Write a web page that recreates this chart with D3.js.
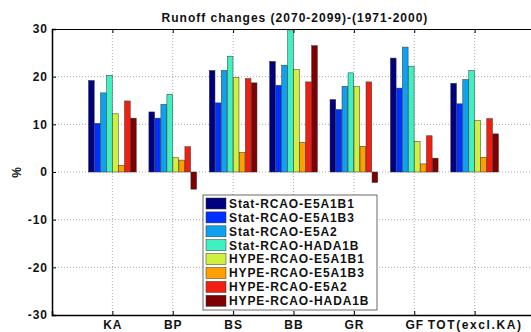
<!DOCTYPE html>
<html>
<head>
<meta charset="utf-8">
<script src="https://cdn.jsdelivr.net/npm/d3@7"></script>
<style>
  body { margin: 0; background: #fff; }
  text { font-family: "Liberation Sans", Arial, sans-serif; font-weight: bold; letter-spacing: 1px; }
  .grid line { stroke: #999; stroke-dasharray: 1,2; stroke-width: 0.8; }
</style>
</head>
<body>
<div id="chart-area"></div>
<script>
// Runoff changes per basin, in %
var basins = ["KA", "BP", "BS", "BB", "GR", "GF", "TOT(excl.KA)"];
var runs = ["Stat-RCAO-E5A1B1", "Stat-RCAO-E5A1B3", "Stat-RCAO-E5A2", "Stat-RCAO-HADA1B",
            "HYPE-RCAO-E5A1B1", "HYPE-RCAO-E5A1B3", "HYPE-RCAO-E5A2", "HYPE-RCAO-HADA1B"];
var runColors = ["#00007f", "#0030ff", "#10a0f0", "#40f0c0", "#d0f040", "#ffa000", "#f02010", "#7f0000"];
var statE5A1B1 = [19.2, 12.6, 21.3, 23.2, 15.2, 23.9, 18.6];
var statE5A1B3 = [10.2, 11.3, 14.5, 18.2, 13.1, 17.6, 14.3];
var statE5A2   = [16.6, 14.2, 21.3, 22.4, 18.0, 26.2, 19.4];
var statHADA1B = [20.3, 16.3, 24.3, 29.8, 20.8, 22.2, 21.3];
var hypeE5A1B1 = [12.2, 3.0, 19.8, 21.5, 18.0, 6.4, 10.8];
var hypeE5A1B3 = [1.4, 2.5, 4.1, 6.2, 5.4, 1.7, 3.1];
var hypeE5A2   = [14.9, 5.3, 19.6, 18.9, 18.9, 7.6, 11.2];
var hypeHADA1B = [11.3, -3.6, 18.7, 26.5, -2.2, 2.9, 8.0];
var yTicks = [-30, -20, -10, 0, 10, 20, 30];

var series = [statE5A1B1, statE5A1B3, statE5A2, statHADA1B, hypeE5A1B1, hypeE5A1B3, hypeE5A2, hypeHADA1B];

var W = 531, H = 332;
var margin = { left: 52, right: -4, top: 29, bottom: 17 },
    width = W - margin.left - margin.right,
    height = H - margin.top - margin.bottom;

var svg = d3.select("#chart-area").append("svg")
    .attr("width", W)
    .attr("height", H);

var g = svg.append("g")
    .attr("transform", "translate(" + margin.left + "," + margin.top + ")");

// Scales
var x = d3.scaleLinear().domain([0, 8]).range([0, width]);
var y = d3.scaleLinear().domain([-30, 30]).range([height, 0]);
var groupW = (x(1) - x(0)) * 0.8;
var xIn = d3.scaleBand().domain(d3.range(runs.length)).range([-groupW / 2, groupW / 2]).padding(0.05);

// Grid lines
g.append("g").attr("class", "grid")
    .selectAll("line").data(yTicks.filter(function(d) { return d > -30 && d < 30; }))
    .enter().append("line")
    .attr("x1", 0).attr("x2", width)
    .attr("y1", function(d) { return y(d); }).attr("y2", function(d) { return y(d); });
g.append("g").attr("class", "grid")
    .selectAll("line").data(basins)
    .enter().append("line")
    .attr("x1", function(d, i) { return x(i + 1); }).attr("x2", function(d, i) { return x(i + 1); })
    .attr("y1", 0).attr("y2", height);

// Bars
series.forEach(function(vals, s) {
    g.append("g").selectAll("rect").data(vals)
        .enter().append("rect")
        .attr("x", function(d, i) { return x(i + 1) + xIn(s); })
        .attr("width", xIn.bandwidth())
        .attr("y", function(d) { return y(Math.max(0, d)); })
        .attr("height", function(d) { return Math.abs(y(d) - y(0)); })
        .attr("fill", runColors[s])
        .attr("stroke", "#333")
        .attr("stroke-width", 0.5);
});

// Axes
var xAxisCall = d3.axisBottom(x).tickValues(d3.range(1, 8)).tickSize(-4)
    .tickFormat(function(d) { return basins[d - 1]; });
var xAxis = g.append("g")
    .attr("transform", "translate(0," + height + ")")
    .call(xAxisCall);
xAxis.select(".domain").attr("stroke", "#000").attr("stroke-width", 1.5);
xAxis.selectAll("text")
    .attr("font-size", 12).attr("y", 14).attr("dy", 0).attr("fill", "#111")
    .style("letter-spacing", function(d) { return d === 7 ? "1.6px" : "1px"; });

var topAxis = g.append("g")
    .call(d3.axisTop(x).tickValues(d3.range(1, 8)).tickSize(-4).tickFormat(""));
topAxis.select(".domain").attr("stroke", "#000").attr("stroke-width", 1.2);

var yAxisCall = d3.axisLeft(y).tickValues(yTicks).tickSize(-4)
    .tickFormat(function(d) { return String(d); });
var yAxis = g.append("g").call(yAxisCall);
yAxis.select(".domain").attr("stroke", "#000").attr("stroke-width", 1.5);
yAxis.selectAll("text").attr("font-size", 12).attr("x", -4).attr("fill", "#111");

// Labels
svg.append("text")
    .attr("x", 295).attr("y", 22)
    .attr("text-anchor", "middle")
    .attr("font-size", 12)
    .attr("fill", "#111")
    .text("Runoff changes (2070-2099)-(1971-2000)");

svg.append("text")
    .attr("transform", "translate(21," + (margin.top + y(0)) + ") rotate(-90)")
    .attr("text-anchor", "middle")
    .attr("font-size", 12)
    .attr("fill", "#111")
    .text("%");

// Legend
var legend = svg.append("g").attr("transform", "translate(203,195)");
legend.append("rect")
    .attr("width", 174).attr("height", 115)
    .attr("fill", "#fff").attr("stroke", "#444").attr("stroke-width", 0.8);
var item = legend.selectAll(".item").data(runs)
    .enter().append("g")
    .attr("transform", function(d, i) { return "translate(3," + (8.5 + i * 13.9) + ")"; });
item.append("rect")
    .attr("x", 0).attr("y", -5.5).attr("width", 20).attr("height", 11)
    .attr("fill", function(d, i) { return runColors[i]; })
    .attr("stroke", "#333").attr("stroke-width", 0.5);
item.append("text")
    .attr("x", 23).attr("dy", "0.36em")
    .attr("font-size", 12)
    .style("letter-spacing", "0.9px")
    .attr("fill", "#111")
    .text(function(d) { return d; });
</script>
</body>
</html>
